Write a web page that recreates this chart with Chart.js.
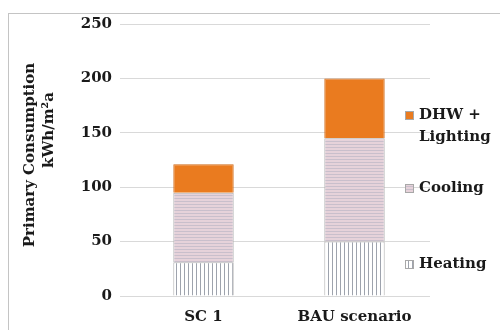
<!DOCTYPE html>
<html>
<head>
<meta charset="utf-8">
<script src="https://cdn.jsdelivr.net/npm/chart.js@4"></script>
<style>
    html, body { margin: 0; padding: 0; background: #fff; overflow: hidden; }
    #wrap { position: relative; width: 500px; height: 330px; }
    #frame { position: absolute; left: 8px; top: 13px; width: 600px; height: 400px; border: 1px solid #c4c4c4; }
    canvas { position: absolute; left: 0; top: 0; }
</style>
</head>
<body>
<div id="wrap">
    <div id="frame"></div>
    <canvas id="chart" width="500" height="330"></canvas>
</div>
<script>
// Primary consumption per scenario (kWh/m2a)
const categories = ['SC 1', 'BAU scenario'];
const heating = [31, 50];
const cooling = [64, 95];
const dhwLighting = [26, 55];
const seriesNames = ['Heating', 'Cooling', 'DHW + Lighting'];
const yTicks = [0, 50, 100, 150, 200, 250];

const FONT = '"DejaVu Serif", serif';

function makePattern(w, h, bg, line, vertical) {
    const c = document.createElement('canvas');
    c.width = w; c.height = h;
    const g = c.getContext('2d');
    g.fillStyle = bg;
    g.fillRect(0, 0, w, h);
    g.fillStyle = line;
    if (vertical) g.fillRect(0, 0, 1, h);
    else g.fillRect(0, 0, w, 1);
    return g.createPattern(c, 'repeat');
}

const ctx = document.getElementById('chart').getContext('2d');
const heatFill = makePattern(4, 4, '#ffffff', '#9ea3ad', true);
const coolFill = makePattern(3, 3, '#e6d2da', '#c9bfcc', false);
const dhwFill = '#ea7b1f';

// legend drawn at the right, items spread like the original
const sideLegend = {
    id: 'sideLegend',
    afterDraw(chart) {
        const c = chart.ctx;
        const items = [
            { fill: dhwFill, lines: ['DHW +', 'Lighting'], y: 115 },
            { fill: coolFill, lines: ['Cooling'], y: 188 },
            { fill: heatFill, lines: ['Heating'], y: 264 }
        ];
        c.save();
        c.font = 'bold 15px ' + FONT;
        c.textBaseline = 'middle';
        items.forEach(it => {
            c.fillStyle = it.fill;
            c.fillRect(405, it.y - 4, 9, 9);
            c.strokeStyle = '#a8a8a8';
            c.lineWidth = 1;
            c.strokeRect(405.5, it.y - 3.5, 8, 8);
            c.fillStyle = '#1a1a1a';
            it.lines.forEach((t, i) => c.fillText(t, 419, it.y + i * 22));
        });

        // y axis title, two lines
        c.textAlign = 'center';
        c.save();
        c.translate(30, 155);
        c.rotate(-Math.PI / 2);
        c.fillText('Primary Consumption', 0, 0);
        c.restore();
        c.save();
        c.translate(49, 130);
        c.rotate(-Math.PI / 2);
        c.fillText('kWh/m\u00b2a', 0, 0);
        c.restore();
        c.restore();
    }
};

new Chart(ctx, {
    type: 'bar',
    data: {
        labels: categories,
        datasets: [
            { label: seriesNames[0], data: heating, backgroundColor: heatFill, borderColor: '#b0b0b0', borderWidth: 1 },
            { label: seriesNames[1], data: cooling, backgroundColor: coolFill, borderColor: '#b0b0b0', borderWidth: 1 },
            { label: seriesNames[2], data: dhwLighting, backgroundColor: dhwFill, borderColor: '#d06a18', borderWidth: 1 }
        ]
    },
    options: {
        responsive: false,
        animation: false,
        events: [],
        barPercentage: 1,
        categoryPercentage: 0.4,
        layout: { padding: { top: 24, right: 70, left: 0, bottom: 0 } },
        plugins: { legend: { display: false }, tooltip: { enabled: false } },
        scales: {
            x: {
                stacked: true,
                grid: { display: false, drawTicks: false },
                border: { display: false },
                ticks: { color: '#1a1a1a', padding: 12, font: { family: FONT, size: 15, weight: 'bold' } },
                afterFit(s) { s.height = 34; }
            },
            y: {
                stacked: true,
                min: 0,
                max: 250,
                afterBuildTicks(s) { s.ticks = yTicks.map(v => ({ value: v })); },
                grid: { color: '#d9d9d9', tickLength: 8 },
                border: { display: false },
                ticks: { color: '#1a1a1a', padding: 8, font: { family: FONT, size: 15, weight: 'bold' } },
                afterFit(s) { s.width = 128; }
            }
        }
    },
    plugins: [sideLegend]
});
</script>
</body>
</html>
